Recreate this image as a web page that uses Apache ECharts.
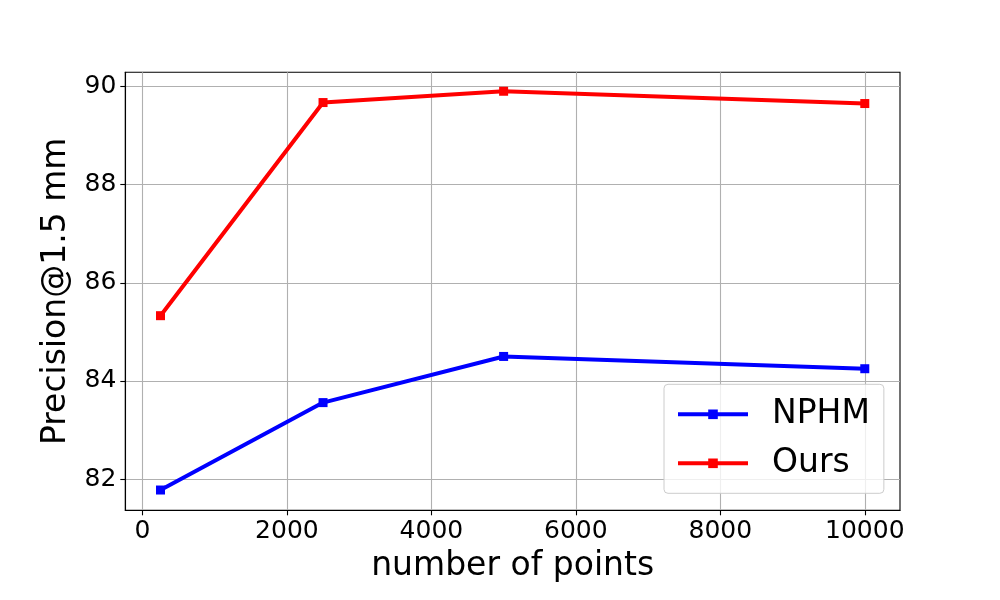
<!DOCTYPE html>
<html>
<head>
<meta charset="utf-8">
<script src="https://cdn.jsdelivr.net/npm/echarts@6/dist/echarts.min.js"></script>
<style>
html,body{margin:0;padding:0;background:#fff;}
#c{width:1000px;height:600px;}
</style>
</head>
<body>
<div id="c"></div>
<script>
const xValues = [250, 2500, 5000, 10000];
const nphmValues = [81.78, 83.56, 84.50, 84.25];
const oursValues = [85.33, 89.67, 89.90, 89.65];
const xTicks = [0, 2000, 4000, 6000, 8000, 10000];
const yTicks = [82, 84, 86, 88, 90];
const seriesNames = ['NPHM', 'Ours'];
const xTitle = 'number of points';
const yTitle = 'Precision@1.5 mm';

const FONT = 'DejaVu Sans';
const chart = echarts.init(document.getElementById('c'), null, {renderer: 'canvas'});

function pairs(xs, ys) { return xs.map((x, i) => [x, ys[i]]); }

const option = {
  animation: false,
  backgroundColor: '#ffffff',
  textStyle: {fontFamily: FONT},
  grid: {left: 125.3, top: 72.3, width: 774.7, height: 438, containLabel: false,
    show: true, borderColor: '#000', borderWidth: 1.1, backgroundColor: 'transparent'},
  xAxis: {
    type: 'value',
    min: -237.5, max: 10487.5,
    name: xTitle, nameLocation: 'middle', nameGap: 40,
    nameTextStyle: {fontFamily: FONT, fontSize: 33, color: '#000'},
    axisLine: {show: true, onZero: false, lineStyle: {color: '#000', width: 1.1}},
    axisTick: {show: true, inside: false, length: 5, lineStyle: {color: '#000', width: 1.1}, customValues: xTicks},
    axisLabel: {fontFamily: FONT, fontSize: 25, color: '#000', margin: 9, customValues: xTicks,
      formatter: v => String(v)},
    splitLine: {show: true, lineStyle: {color: '#b0b0b0', width: 1.1}}
  },
  yAxis: {
    type: 'value',
    min: 81.367, max: 90.286,
    name: yTitle, nameLocation: 'middle', nameGap: 52, nameRotate: 90,
    nameTextStyle: {fontFamily: FONT, fontSize: 33, color: '#000'},
    axisLine: {show: true, onZero: false, lineStyle: {color: '#000', width: 1.1}},
    axisTick: {show: true, inside: false, length: 5, lineStyle: {color: '#000', width: 1.1}, customValues: yTicks},
    axisLabel: {fontFamily: FONT, fontSize: 25, color: '#000', margin: 9, customValues: yTicks,
      formatter: v => String(v)},
    splitLine: {show: true, lineStyle: {color: '#b0b0b0', width: 1.1}}
  },
  legend: {
    left: 664, top: 384.3,
    orient: 'vertical',
    data: seriesNames,
    itemWidth: 70, itemHeight: 12, itemGap: 11,
    lineStyle: {width: 4},
    textStyle: {fontFamily: FONT, fontSize: 33, color: '#000', lineHeight: 38, padding: [0, 0, 0, 19]},
    padding: [11, 14, 11, 12],
    backgroundColor: 'rgba(255,255,255,0.8)',
    borderColor: '#cccccc', borderWidth: 1, borderRadius: 4
  },
  series: [
    {
      name: seriesNames[0], type: 'line', data: pairs(xValues, nphmValues),
      color: '#0000ff', symbol: 'rect', symbolSize: 9, showSymbol: true,
      lineStyle: {width: 4, color: '#0000ff'}, itemStyle: {color: '#0000ff'}
    },
    {
      name: seriesNames[1], type: 'line', data: pairs(xValues, oursValues),
      color: '#ff0000', symbol: 'rect', symbolSize: 9, showSymbol: true,
      lineStyle: {width: 4, color: '#ff0000'}, itemStyle: {color: '#ff0000'}
    }
  ]
};
chart.setOption(option);
</script>
</body>
</html>
